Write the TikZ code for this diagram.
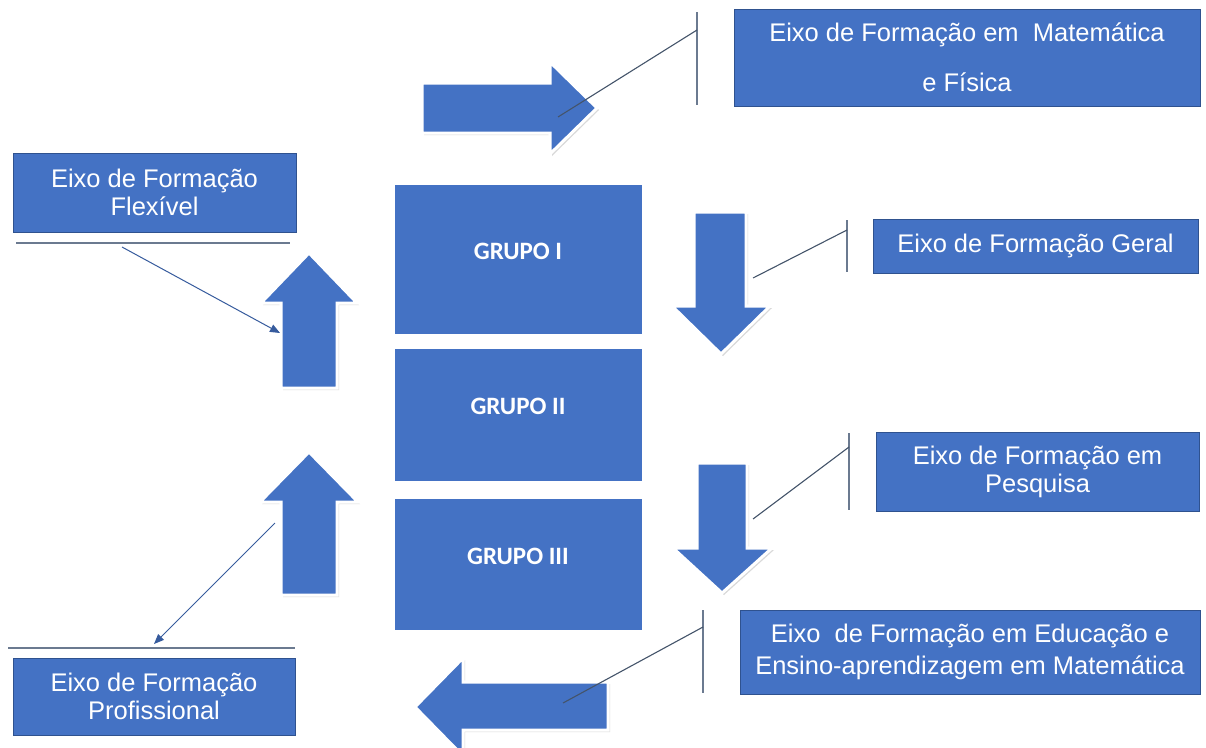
\documentclass[tikz,border=0pt]{standalone}
\usepackage{fontspec}
\setmainfont{Liberation Sans}
\newfontfamily\grupofont{Carlito}
\usetikzlibrary{arrows.meta,shadows}
\definecolor{eixoblue}{HTML}{4472C4}
\definecolor{eixoedge}{HTML}{2F528F}
\definecolor{callout}{HTML}{44546A}
\definecolor{barra}{HTML}{6B7A90}

\begin{document}
\begin{tikzpicture}[x=1pt,y=-1pt]
    \tikzset{EixoStyle/.style = {draw=eixoedge, line width=0.8pt, fill=eixoblue, text=white,
                                 align=center, inner sep=0pt, font=\fontsize{25.5}{28}\selectfont},
             GrupoStyle/.style = {draw=white, line width=3pt, fill=eixoblue, text=white, inner sep=0pt,
                                  minimum width=250, text height=16pt, text depth=16pt,
                                  font=\grupofont\bfseries\fontsize{25}{30}\selectfont,
                                  drop shadow={opacity=0.3, shadow xshift=2pt, shadow yshift=-2pt}},
             FlechaStyle/.style = {draw=white, line width=3pt, fill=eixoblue, line join=miter,
                                   drop shadow={opacity=0.3, shadow xshift=2pt, shadow yshift=-2pt}},
             BarraStyle/.style = {draw=barra, line width=1.6pt},
             CalloutStyle/.style = {draw=callout, line width=1.1pt},
             SetaStyle/.style = {draw=eixoblue!80!black, line width=1pt, -{Triangle[length=10pt,width=8pt]}}}
    \useasboundingbox (0,0) rectangle (1206,747);
    % grupos
    \node[GrupoStyle, minimum height=152] (g1) at (518,259) {GRUPO I};
    \node[GrupoStyle, minimum height=135] (g2) at (518,414.5) {GRUPO II};
    \node[GrupoStyle, minimum height=134] (g3) at (518,564) {GRUPO III};
    % setas largas
    \draw[FlechaStyle] (422,83) -- (550,83) -- (550,62) -- (597,108) -- (550,154) -- (550,133) -- (422,133) -- cycle;
    \draw[FlechaStyle] (281,388) -- (281,303) -- (261,303) -- (309,253) -- (357,303) -- (337,303) -- (337,388) -- cycle;
    \draw[FlechaStyle] (281,595) -- (281,502) -- (260,502) -- (309,452) -- (358,502) -- (337,502) -- (337,595) -- cycle;
    \draw[FlechaStyle] (694,212) -- (746,212) -- (746,306) -- (770,306) -- (721,354) -- (672,306) -- (694,306) -- cycle;
    \draw[FlechaStyle] (697,463) -- (747,463) -- (747,548) -- (772,548) -- (722,593) -- (673,548) -- (697,548) -- cycle;
    \draw[FlechaStyle] (608,682) -- (463,682) -- (463,658) -- (415,707) -- (463,756) -- (463,730) -- (608,730) -- cycle;
    % eixos
    \node[EixoStyle, minimum width=466, minimum height=97, font=\fontsize{25.5}{50}\selectfont]
        (matfis) at (967,57.5) {Eixo de Formação em\ \ Matemática\\e Física};
    \node[EixoStyle, minimum width=325, minimum height=54] (geral) at (1035.5,246) {Eixo de Formação Geral};
    \node[EixoStyle, minimum width=323, minimum height=79] (pesquisa) at (1037.5,471.5) {Eixo de Formação em\\Pesquisa};
    \node[EixoStyle, minimum width=460, minimum height=84, font=\fontsize{25.5}{32}\selectfont]
        (educacao) at (970,652) {Eixo\ \ de Formação em Educação e\\Ensino-aprendizagem em Matemática};
    \node[EixoStyle, minimum width=283, minimum height=79] (flexivel) at (154.5,192.5) {Eixo de Formação\\Flexível};
    \node[EixoStyle, minimum width=282, minimum height=77] (profissional) at (154,696.5) {Eixo de Formação\\Profissional};
    % chamadas
    \coordinate (matfis-a) at (697,12);   \coordinate (matfis-b) at (697,105);
    \coordinate (matfis-c) at (697,30);   \coordinate (matfis-d) at (558,117);
    \coordinate (geral-a) at (847,220);   \coordinate (geral-b) at (847,272);
    \coordinate (geral-c) at (847,230);   \coordinate (geral-d) at (753,278);
    \coordinate (pesq-a) at (849,433);    \coordinate (pesq-b) at (849,510);
    \coordinate (pesq-c) at (849,447);    \coordinate (pesq-d) at (753,519);
    \coordinate (educ-a) at (703,610);    \coordinate (educ-b) at (703,693);
    \coordinate (educ-c) at (703,627);    \coordinate (educ-d) at (563,703);
    \coordinate (flex-a) at (16,243);     \coordinate (flex-b) at (290,243);
    \coordinate (flex-c) at (122,247);    \coordinate (flex-d) at (280,333);
    \coordinate (prof-a) at (8,648);      \coordinate (prof-b) at (295,648);
    \coordinate (prof-c) at (275,523);    \coordinate (prof-d) at (154,644);
    \draw[BarraStyle] (matfis-a) -- (matfis-b);
    \draw[BarraStyle] (geral-a) -- (geral-b);
    \draw[BarraStyle] (pesq-a) -- (pesq-b);
    \draw[BarraStyle] (educ-a) -- (educ-b);
    \draw[BarraStyle] (flex-a) -- (flex-b);
    \draw[BarraStyle] (prof-a) -- (prof-b);
    \draw[CalloutStyle] (matfis-c) -- (matfis-d);
    \draw[CalloutStyle] (geral-c) -- (geral-d);
    \draw[CalloutStyle] (pesq-c) -- (pesq-d);
    \draw[CalloutStyle] (educ-c) -- (educ-d);
    \draw[SetaStyle] (flex-c) -- (flex-d);
    \draw[SetaStyle] (prof-c) -- (prof-d);
\end{tikzpicture}
\end{document}
